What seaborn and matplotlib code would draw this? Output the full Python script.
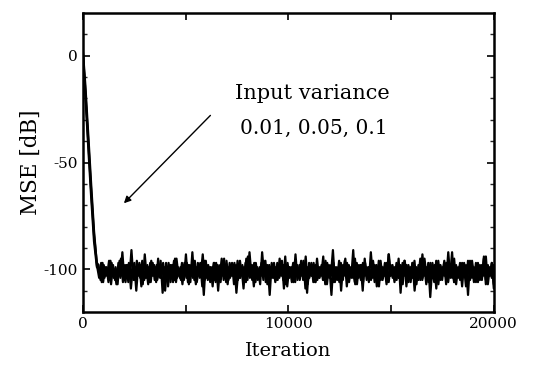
import numpy as np
import pandas as pd
import matplotlib
matplotlib.use("Agg")
import matplotlib.pyplot as plt
import seaborn as sns

variances = ["0.01", "0.05", "0.1"]

# initial convergence (steep drop next to the y axis)
start_iter = [0, 120, 260, 400, 540, 680]
start_mse = {
    "0.01": [1, -17, -40, -63, -84, -97],
    "0.05": [2, -14, -37, -60, -82, -98],
    "0.1": [0, -19, -43, -66, -87, -99],
}

# steady-state MSE after convergence, one list per input variance
steady_mse = {
    "0.01": [
        -98, -105, -97, -104, -99, -106, -96, -103, -100, -107,
        -97, -104, -92, -105, -98, -106, -99, -103, -97, -110,
        -98, -104, -96, -105, -99, -107, -97, -103, -98, -106,
        -95, -104, -99, -105, -97, -108, -98, -103, -96, -106,
        -99, -104, -97, -105, -93, -106, -98, -103, -99, -107,
        -97, -104, -98, -112, -96, -105, -99, -103, -97, -106,
        -98, -104, -95, -105, -99, -107, -97, -103, -98, -106,
        -96, -104, -99, -109, -97, -105, -92, -103, -98, -106,
        -99, -104, -97, -105, -96, -107, -98, -103, -99, -106,
        -97, -104, -98, -105, -94, -108, -99, -103, -97, -106,
        -98, -104, -96, -105, -99, -111, -97, -103, -98, -106,
        -95, -104, -99, -105, -97, -107, -98, -103, -91, -106,
        -99, -104, -97, -105, -96, -108, -98, -103, -99, -106,
        -97, -104, -98, -110, -95, -105, -99, -103, -97, -106,
        -98, -104, -96, -105, -99, -107, -93, -103, -98, -106,
        -97, -104, -99, -105, -96, -108, -98, -103, -97, -106,
        -99, -104, -95, -105, -98, -107, -97, -113, -99, -106,
        -96, -104, -98, -105, -97, -107, -99, -103, -92, -106,
        -98, -104, -97, -105, -99, -108, -96, -103, -98, -106,
        -97, -104, -99, -105, -95, -107, -98, -103, -97, -109,
    ],
    "0.05": [
        -104, -97, -106, -99, -103, -96, -107, -98, -105, -100,
        -103, -95, -106, -98, -104, -97, -109, -99, -105, -96,
        -103, -98, -107, -93, -104, -99, -106, -97, -105, -98,
        -103, -96, -111, -99, -104, -97, -106, -98, -105, -95,
        -103, -99, -107, -97, -104, -98, -106, -92, -105, -99,
        -103, -97, -108, -96, -104, -98, -106, -99, -105, -97,
        -110, -98, -103, -95, -106, -99, -104, -97, -107, -98,
        -105, -96, -103, -99, -106, -94, -104, -98, -108, -97,
        -105, -99, -103, -96, -106, -98, -112, -97, -104, -99,
        -105, -95, -103, -98, -107, -97, -104, -99, -106, -93,
        -105, -98, -103, -96, -109, -99, -104, -97, -106, -98,
        -105, -99, -103, -94, -107, -97, -104, -98, -106, -99,
        -105, -96, -110, -98, -103, -97, -106, -99, -104, -95,
        -107, -98, -105, -97, -103, -99, -106, -92, -104, -98,
        -108, -96, -105, -99, -103, -97, -106, -98, -104, -99,
        -105, -95, -111, -97, -103, -98, -106, -99, -104, -96,
        -107, -98, -105, -93, -103, -99, -106, -97, -104, -98,
        -109, -96, -105, -99, -103, -97, -106, -98, -104, -95,
        -107, -99, -105, -97, -103, -98, -112, -96, -104, -99,
        -106, -97, -105, -98, -103, -94, -107, -99, -104, -98,
    ],
    "0.1": [
        -100, -106, -98, -103, -101, -105, -97, -104, -99, -107,
        -96, -103, -100, -106, -98, -104, -91, -105, -99, -103,
        -97, -108, -100, -104, -98, -106, -96, -103, -99, -105,
        -101, -104, -97, -110, -99, -103, -98, -106, -95, -104,
        -100, -105, -98, -103, -97, -107, -99, -104, -96, -106,
        -100, -103, -93, -105, -98, -104, -99, -108, -97, -103,
        -100, -106, -98, -104, -96, -105, -99, -103, -97, -111,
        -100, -104, -98, -106, -95, -103, -99, -105, -97, -104,
        -100, -107, -92, -103, -98, -106, -99, -104, -97, -105,
        -100, -103, -96, -109, -98, -104, -99, -106, -97, -103,
        -100, -105, -98, -104, -94, -107, -99, -103, -97, -106,
        -100, -104, -98, -105, -96, -103, -99, -112, -97, -104,
        -100, -106, -98, -103, -95, -105, -99, -104, -91, -107,
        -100, -103, -98, -106, -97, -104, -99, -105, -96, -103,
        -100, -108, -98, -104, -97, -106, -93, -103, -99, -105,
        -100, -104, -98, -107, -96, -103, -99, -106, -97, -110,
        -100, -105, -98, -104, -95, -103, -99, -106, -97, -104,
        -100, -107, -98, -103, -96, -105, -92, -104, -99, -106,
        -100, -103, -98, -108, -97, -104, -99, -105, -96, -103,
        -100, -106, -98, -104, -94, -105, -99, -103, -97, -107,
    ],
}
steady_start = {"0.01": 760, "0.05": 790, "0.1": 820}

rows = []
for v in variances:
    it = np.concatenate([start_iter, np.linspace(steady_start[v], 20000, len(steady_mse[v]))])
    val = np.concatenate([start_mse[v], steady_mse[v]])
    rows.append(pd.DataFrame({"Iteration": it, "MSE": val, "variance": v}))
df = pd.concat(rows, ignore_index=True)

sns.set_style("ticks")
plt.rcParams["font.family"] = ["DejaVu Serif"]
plt.rcParams["axes.unicode_minus"] = False
plt.rcParams["text.color"] = "black"
plt.rcParams["axes.labelcolor"] = "black"

fig = plt.figure(figsize=(5.35, 3.73), dpi=100)
ax = fig.add_axes([0.155, 0.1635, 0.768, 0.8015])

sns.lineplot(data=df, x="Iteration", y="MSE", hue="variance", ax=ax,
             palette=["black"] * 3, linewidth=1.6, sort=False, legend=False)

ax.set_xlim(0, 20000)
ax.set_ylim(-120, 20)
ax.set_xticks([0, 5000, 10000, 15000, 20000])
ax.set_xticklabels(["0", "", "10000", "", "20000"])
ax.set_yticks([0, -50, -100])
ax.set_yticks(np.arange(-110, 20, 10), minor=True)
ax.tick_params(direction="in", length=5, width=1.2, labelsize=11, colors="black")
ax.tick_params(which="minor", direction="in", length=3, width=1.0)
ax.tick_params(right=True, top=True, which="both")
for s in ax.spines.values():
    s.set_linewidth(1.8)
    s.set_color("black")

ax.set_xlabel("Iteration", fontsize=14, labelpad=8)
ax.set_ylabel("MSE [dB]", fontsize=15.5, labelpad=1)

ax.annotate("", xy=(1900, -70), xytext=(6300, -27),
            arrowprops=dict(arrowstyle="-|>", color="black", lw=1.0,
                            mutation_scale=10))
ax.text(11170, -17.5, "Input variance", ha="center", va="center", fontsize=15)
ax.text(11220, -34, "0.01, 0.05, 0.1", ha="center", va="center", fontsize=14.5)

fig.savefig("out.png", dpi=100)
